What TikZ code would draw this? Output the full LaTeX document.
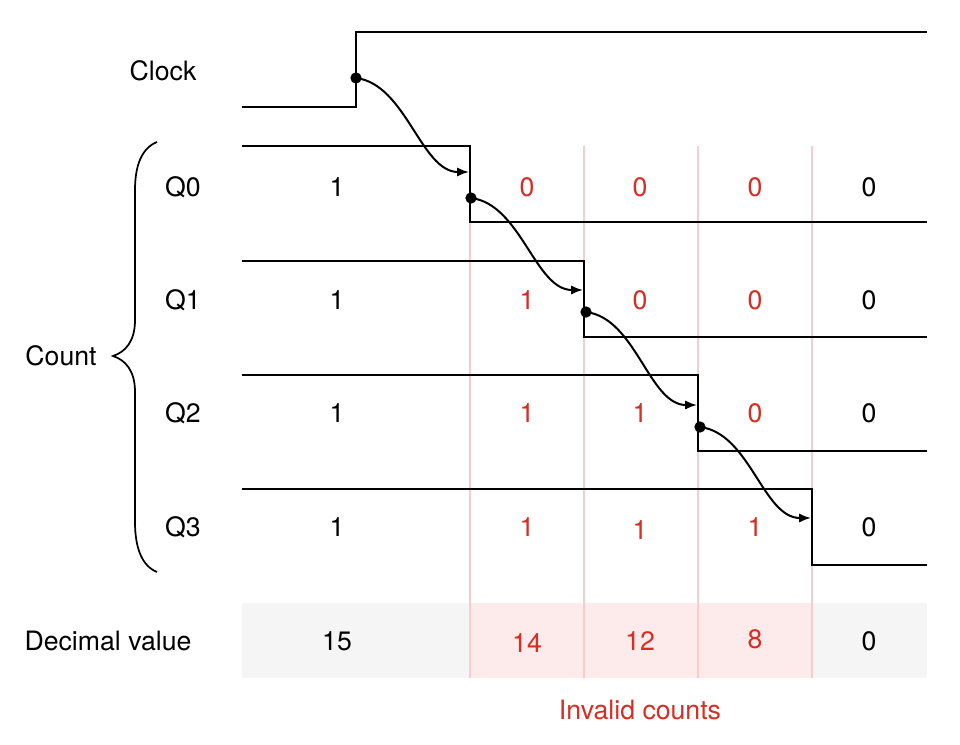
\documentclass[tikz,border=0pt]{standalone}
\usepackage{fontspec}
\setmainfont{TeX Gyre Heros}
\usetikzlibrary{arrows.meta}
\tikzset{>={Latex[length=9pt,width=7pt]}}
\definecolor{invalid}{RGB}{215,45,35}
\definecolor{gridpink}{RGB}{246,204,204}
\definecolor{bandgray}{RGB}{245,245,245}
\definecolor{bandpink}{RGB}{253,234,234}

\begin{document}
\begin{tikzpicture}[x=0.75pt, y=-0.75pt, line width=1.5pt,
  every node/.style={font=\fontsize{20}{24}\selectfont},
  bad/.style={text=invalid},
  dot/.style={circle, fill, inner sep=0pt, minimum size=8.5pt}]
  \useasboundingbox (0,0) rectangle (960,745);

  % Decimal value band and invalid columns
  \fill[bandgray] (242,603) rectangle (927,678);
  \fill[bandpink] (470,603) rectangle (812,678);
  \foreach \x in {470,584,698,812}
    \draw[gridpink, line width=0.8pt] (\x,146) -- (\x,678);

  % Waveforms
  \draw (242,107) -- (356,107) -- (356,32) -- (927,32);
  \draw (242,146) -- (470,146) -- (470,222) -- (927,222);
  \draw (242,261) -- (584,261) -- (584,337) -- (927,337);
  \draw (242,375) -- (698,375) -- (698,451) -- (927,451);
  \draw (242,489) -- (812,489) -- (812,565) -- (927,565);

  % Signal labels
  \node (clk) at (163,71) {Clock};
  \node (q0) at (183,187) {Q0};
  \node (q1) at (183,300) {Q1};
  \node (q2) at (183,413) {Q2};
  \node (q3) at (183,527) {Q3};
  \node (count) at (61,356) {Count};
  \node (dec) at (108,641) {Decimal value};
  \node[bad] (inv) at (640,710) {Invalid counts};

  % Brace
  \draw[line width=1.3pt] (157,142) .. controls (142,148) and (135,165) .. (135,190)
    -- (135,320) .. controls (135,342) and (125,352) .. (113,356)
    .. controls (125,360) and (135,370) .. (135,392)
    -- (135,522) .. controls (135,548) and (142,566) .. (157,572);

  % Bit values
  \foreach \y/\n in {187/0,300/1,413/2,527/3} {
    \node (b\n a) at (337,\y) {1};
    \node (b\n e) at (869,\y) {0};
  }
  \node[bad] (b0b) at (527,187) {0};
  \node[bad] (b0c) at (640,187) {0};
  \node[bad] (b0d) at (755,187) {0};
  \node[bad] (b1b) at (527,300) {1};
  \node[bad] (b1c) at (640,300) {0};
  \node[bad] (b1d) at (755,300) {0};
  \node[bad] (b2b) at (527,413) {1};
  \node[bad] (b2c) at (640,413) {1};
  \node[bad] (b2d) at (755,413) {0};
  \node[bad] (b3b) at (527,527) {1};
  \node[bad] (b3c) at (640,530) {1};
  \node[bad] (b3d) at (755,527) {1};

  % Decimal values
  \node (d1) at (337,641) {15};
  \node[bad] (d2) at (527,643) {14};
  \node[bad] (d3) at (640,641) {12};
  \node[bad] (d4) at (755,639) {8};
  \node (d5) at (869,641) {0};

  % Ripple: each edge triggers the next stage
  \node[dot] (t0) at (356,78) {};
  \node[dot] (t1) at (471,198) {};
  \node[dot] (t2) at (586,312) {};
  \node[dot] (t3) at (700,427) {};
  \coordinate (e0) at (469,172);
  \coordinate (e1) at (583,290);
  \coordinate (e2) at (697,405);
  \coordinate (e3) at (811,518);
  \foreach \i in {0,1,2,3}
    \draw[->] (t\i.center) .. controls +(50,6) and +(-48,0) .. (e\i);
\end{tikzpicture}
\end{document}
